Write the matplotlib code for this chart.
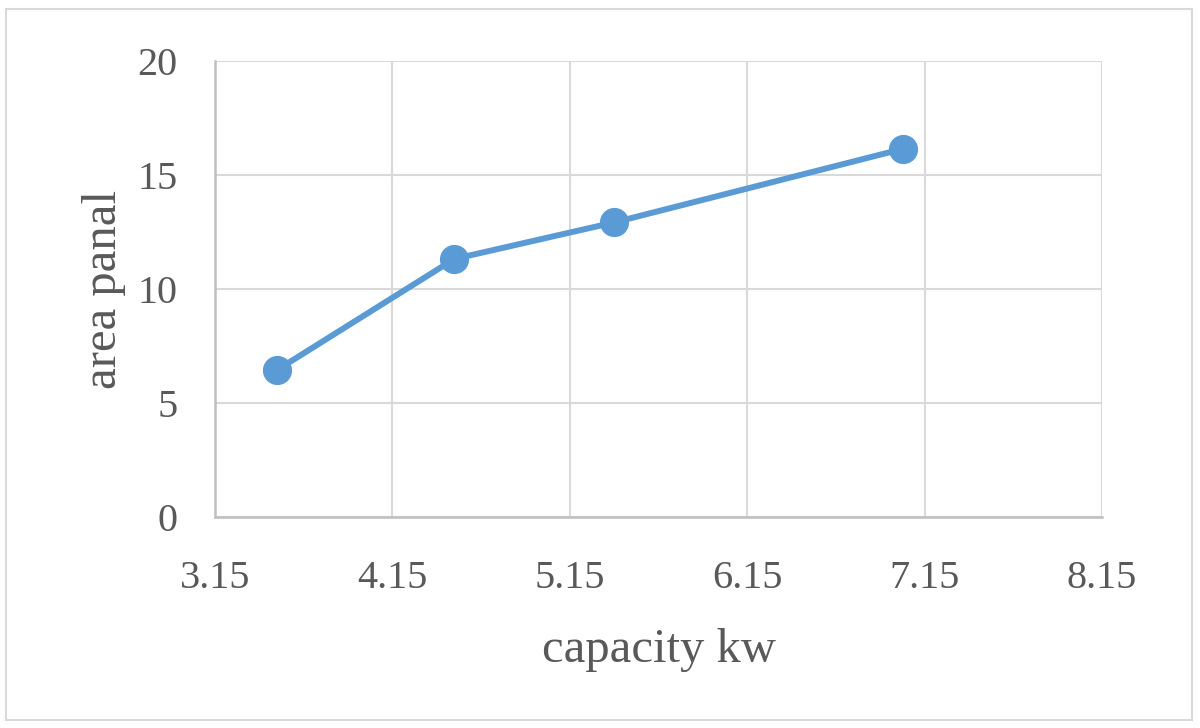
import matplotlib.pyplot as plt
from matplotlib.patches import Rectangle

capacity = [3.5, 4.5, 5.4, 7.03]
area = [6.45, 11.32, 12.92, 16.15]
x_ticks = [3.15, 4.15, 5.15, 6.15, 7.15, 8.15]
y_ticks = [0, 5, 10, 15, 20]

plt.rcParams["font.family"] = ["Liberation Serif", "DejaVu Serif"]

fig = plt.figure(figsize=(12, 7.28), dpi=100)
ax = fig.add_axes([215 / 1200, 1 - 517 / 728, (1102 - 215) / 1200, (517 - 61) / 728])

ax.plot(capacity, area, color="#5B9BD5", linewidth=4.3, marker="o",
        markersize=20, zorder=3, clip_on=False)

ax.set_xlim(3.15, 8.15)
ax.set_ylim(0, 20)
ax.set_xticks(x_ticks)
ax.set_xticklabels([f"{v:.2f}" for v in x_ticks])
ax.set_yticks(y_ticks)
ax.grid(color="#d9d9d9", linewidth=1.5)
ax.set_axisbelow(True)
for side in ["top", "right"]:
    ax.spines[side].set_visible(False)
for side in ["left", "bottom"]:
    ax.spines[side].set_color("#bfbfbf")
    ax.spines[side].set_linewidth(1.8)
ax.tick_params(length=0, labelsize=29, labelcolor="#595959")
ax.tick_params(axis="x", pad=31)
ax.tick_params(axis="y", pad=27)

ax.set_xlabel("capacity kw", fontsize=35, color="#595959", labelpad=22)
ax.set_ylabel("area panal", fontsize=35, color="#595959", labelpad=8)

fig.patches.append(Rectangle((6 / 1200, 8 / 728), 1186 / 1200, 711 / 728,
                             transform=fig.transFigure, fill=False,
                             edgecolor="#d9d9d9", linewidth=1.5))

fig.savefig("out.png", dpi=100)
